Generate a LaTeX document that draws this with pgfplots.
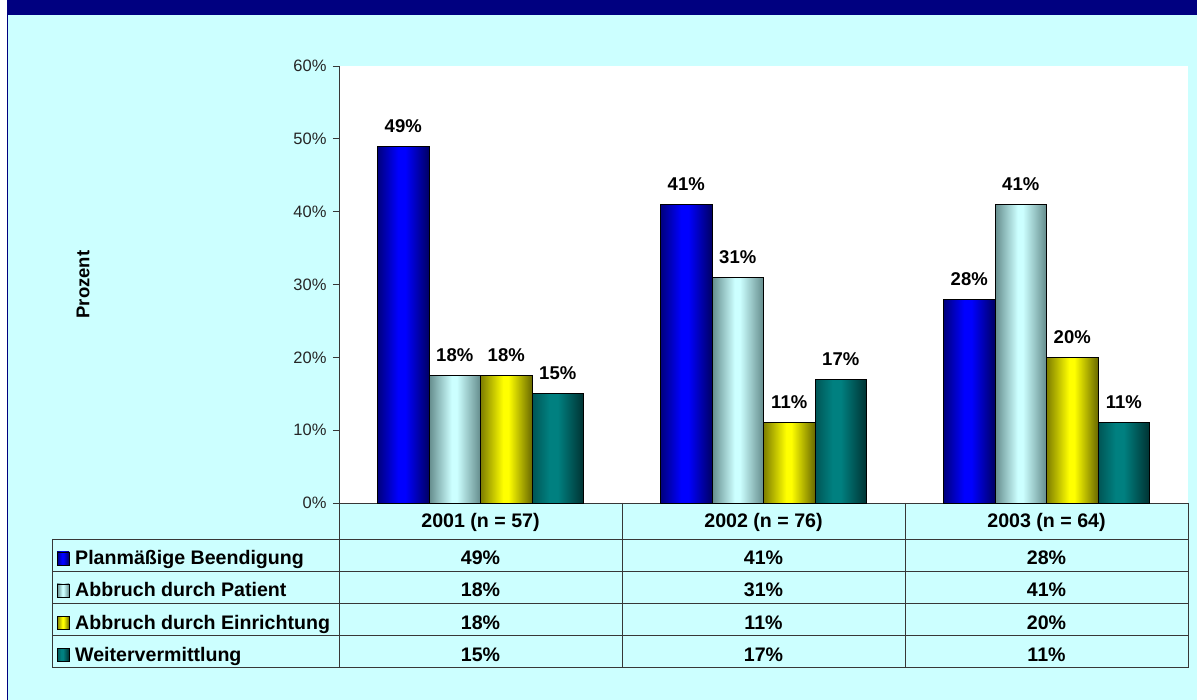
\documentclass[border=0pt]{standalone}
\usepackage{pgfplots}
\pgfplotsset{compat=1.18}
\usepackage{fontspec}
\setmainfont{Liberation Sans}

\definecolor{bgcyan}{RGB}{204,255,255}
\definecolor{navyb}{RGB}{0,0,128}
\definecolor{gridline}{RGB}{55,55,55}

\definecolor{blueL}{RGB}{0,0,125}
\definecolor{blueM}{RGB}{0,0,255}
\definecolor{blueR}{RGB}{0,0,100}
\definecolor{cyanL}{RGB}{100,140,140}
\definecolor{cyanM}{RGB}{204,255,255}
\definecolor{cyanR}{RGB}{100,140,140}
\definecolor{yelL}{RGB}{125,125,0}
\definecolor{yelM}{RGB}{255,255,0}
\definecolor{yelR}{RGB}{105,105,0}
\definecolor{tealL}{RGB}{0,85,85}
\definecolor{tealM}{RGB}{0,128,128}
\definecolor{tealR}{RGB}{0,50,50}

\pgfdeclarehorizontalshading{shBlue}{100bp}{color(0bp)=(blueL); color(25bp)=(blueL); color(45bp)=(blueM); color(52bp)=(blueM); color(75bp)=(blueR); color(100bp)=(blueR)}
\pgfdeclarehorizontalshading{shCyan}{100bp}{color(0bp)=(cyanL); color(25bp)=(cyanL); color(47bp)=(cyanM); color(52bp)=(cyanM); color(75bp)=(cyanR); color(100bp)=(cyanR)}
\pgfdeclarehorizontalshading{shYel}{100bp}{color(0bp)=(yelL); color(25bp)=(yelL); color(47bp)=(yelM); color(52bp)=(yelM); color(75bp)=(yelR); color(100bp)=(yelR)}
\pgfdeclarehorizontalshading{shTeal}{100bp}{color(0bp)=(tealL); color(25bp)=(tealL); color(42bp)=(tealM); color(50bp)=(tealM); color(75bp)=(tealR); color(100bp)=(tealR)}

\pgfplotsset{
  barbase/.style={ybar, bar width=51.5pt, draw=black, line width=0.9pt, shade},
  s1/.style={barbase, bar shift=-77.25pt, shading=shBlue, every node near coord/.append style={xshift=-77.25pt}},
  s2/.style={barbase, bar shift=-25.75pt, shading=shCyan, every node near coord/.append style={xshift=-25.75pt}},
  s3/.style={barbase, bar shift=25.75pt, shading=shYel, every node near coord/.append style={xshift=25.75pt}},
  s4/.style={barbase, bar shift=77.25pt, shading=shTeal, every node near coord/.append style={xshift=77.25pt}},
}

\newcommand{\tabfont}{\fontsize{19.6}{22}\selectfont\bfseries}

\begin{document}
\begin{tikzpicture}
% background
\fill[white] (0pt,0pt) rectangle (1197pt,700pt);
\fill[bgcyan] (8pt,0pt) rectangle (1197pt,685pt);
\fill[navyb] (8pt,685pt) rectangle (1197pt,700pt);
\draw[navyb, line width=1.4pt] (7.6pt,0pt) -- (7.6pt,700pt);

\begin{axis}[
  at={(339pt,197pt)}, anchor=south west,
  scale only axis, width=849pt, height=437pt,
  xmin=-0.5, xmax=2.5, ymin=0, ymax=60,
  axis background/.style={fill=white},
  axis x line*=bottom, axis y line*=left,
  axis line style={draw=gridline, line width=0.9pt},
  xtick=\empty,
  ytick={0,10,20,30,40,50,60},
  yticklabel={\pgfmathprintnumber{\tick}\%},
  /pgf/number format/assume math mode=true,
  tick align=outside, major tick length=6pt,
  y tick style={draw=gridline, line width=0.9pt},
  yticklabel style={font=\fontsize{16.5}{19}\selectfont, text=black!85, xshift=-3pt},
  ylabel={Prozent},
  ylabel style={at={(axis description cs:-0.3015,0.5)}, anchor=center, font=\fontsize{18.5}{21}\selectfont\bfseries},
  point meta=explicit symbolic,
  nodes near coords,
  every node near coord/.append style={font=\fontsize{18.5}{21}\selectfont\bfseries, anchor=base, inner sep=0pt, yshift=14pt, text=black},
  clip=false,
]
% 2001 (n = 57)
\addplot[s1] coordinates {(0,49) [49\%]};
\addplot[s2] coordinates {(0,17.5) [18\%]};
\addplot[s3] coordinates {(0,17.5) [18\%]};
\addplot[s4] coordinates {(0,15) [15\%]};
% 2002 (n = 76)
\addplot[s1] coordinates {(1,41) [41\%]};
\addplot[s2] coordinates {(1,31) [31\%]};
\addplot[s3] coordinates {(1,11) [11\%]};
\addplot[s4] coordinates {(1,17) [17\%]};
% 2003 (n = 64)
\addplot[s1] coordinates {(2,28) [28\%]};
\addplot[s2] coordinates {(2,41) [41\%]};
\addplot[s3] coordinates {(2,20) [20\%]};
\addplot[s4] coordinates {(2,11) [11\%]};
\end{axis}

% data table grid
\begin{scope}[draw=gridline, line width=0.9pt]
\draw (52pt,161pt) -- (1188.5pt,161pt);
\draw (52pt,129pt) -- (1188.5pt,129pt);
\draw (52pt,97pt) -- (1188.5pt,97pt);
\draw (52pt,64.5pt) -- (1188.5pt,64.5pt);
\draw (52pt,32.5pt) -- (1188.5pt,32.5pt);
\draw (52pt,161pt) -- (52pt,32.5pt);
\draw (339pt,197pt) -- (339pt,32.5pt);
\draw (622pt,197pt) -- (622pt,32.5pt);
\draw (905pt,197pt) -- (905pt,32.5pt);
\draw (1188.5pt,197pt) -- (1188.5pt,32.5pt);
\end{scope}

% header
\node[anchor=base, inner sep=0pt, font=\tabfont] at (480.5pt,172pt) {2001 (n = 57)};
\node[anchor=base, inner sep=0pt, font=\tabfont] at (763.5pt,172pt) {2002 (n = 76)};
\node[anchor=base, inner sep=0pt, font=\tabfont] at (1046.5pt,172pt) {2003 (n = 64)};

% legend keys and row labels
\shade[shading=shBlue, draw=black, line width=0.8pt] (57pt,135pt) rectangle (69pt,148pt);
\shade[shading=shCyan, draw=black, line width=0.8pt] (57pt,103pt) rectangle (69pt,116pt);
\shade[shading=shYel, draw=black, line width=0.8pt] (57pt,70.5pt) rectangle (69pt,83.5pt);
\shade[shading=shTeal, draw=black, line width=0.8pt] (57pt,38.5pt) rectangle (69pt,51.5pt);
\node[anchor=base west, inner sep=0pt, font=\tabfont] at (75pt,135pt) {Planmäßige Beendigung};
\node[anchor=base west, inner sep=0pt, font=\tabfont] at (75pt,103pt) {Abbruch durch Patient};
\node[anchor=base west, inner sep=0pt, font=\tabfont] at (75pt,70.5pt) {Abbruch durch Einrichtung};
\node[anchor=base west, inner sep=0pt, font=\tabfont] at (75pt,38.5pt) {Weitervermittlung};

% values
\foreach \x/\a/\b/\c/\d in {480.5/49/18/18/15, 763.5/41/31/11/17, 1046.5/28/41/20/11}{
  \node[anchor=base, inner sep=0pt, font=\tabfont] at (\x pt,135pt) {\a\%};
  \node[anchor=base, inner sep=0pt, font=\tabfont] at (\x pt,103pt) {\b\%};
  \node[anchor=base, inner sep=0pt, font=\tabfont] at (\x pt,70.5pt) {\c\%};
  \node[anchor=base, inner sep=0pt, font=\tabfont] at (\x pt,38.5pt) {\d\%};
}

\pgfresetboundingbox
\useasboundingbox (0pt,0pt) rectangle (1197pt,700pt);
\end{tikzpicture}
\end{document}
